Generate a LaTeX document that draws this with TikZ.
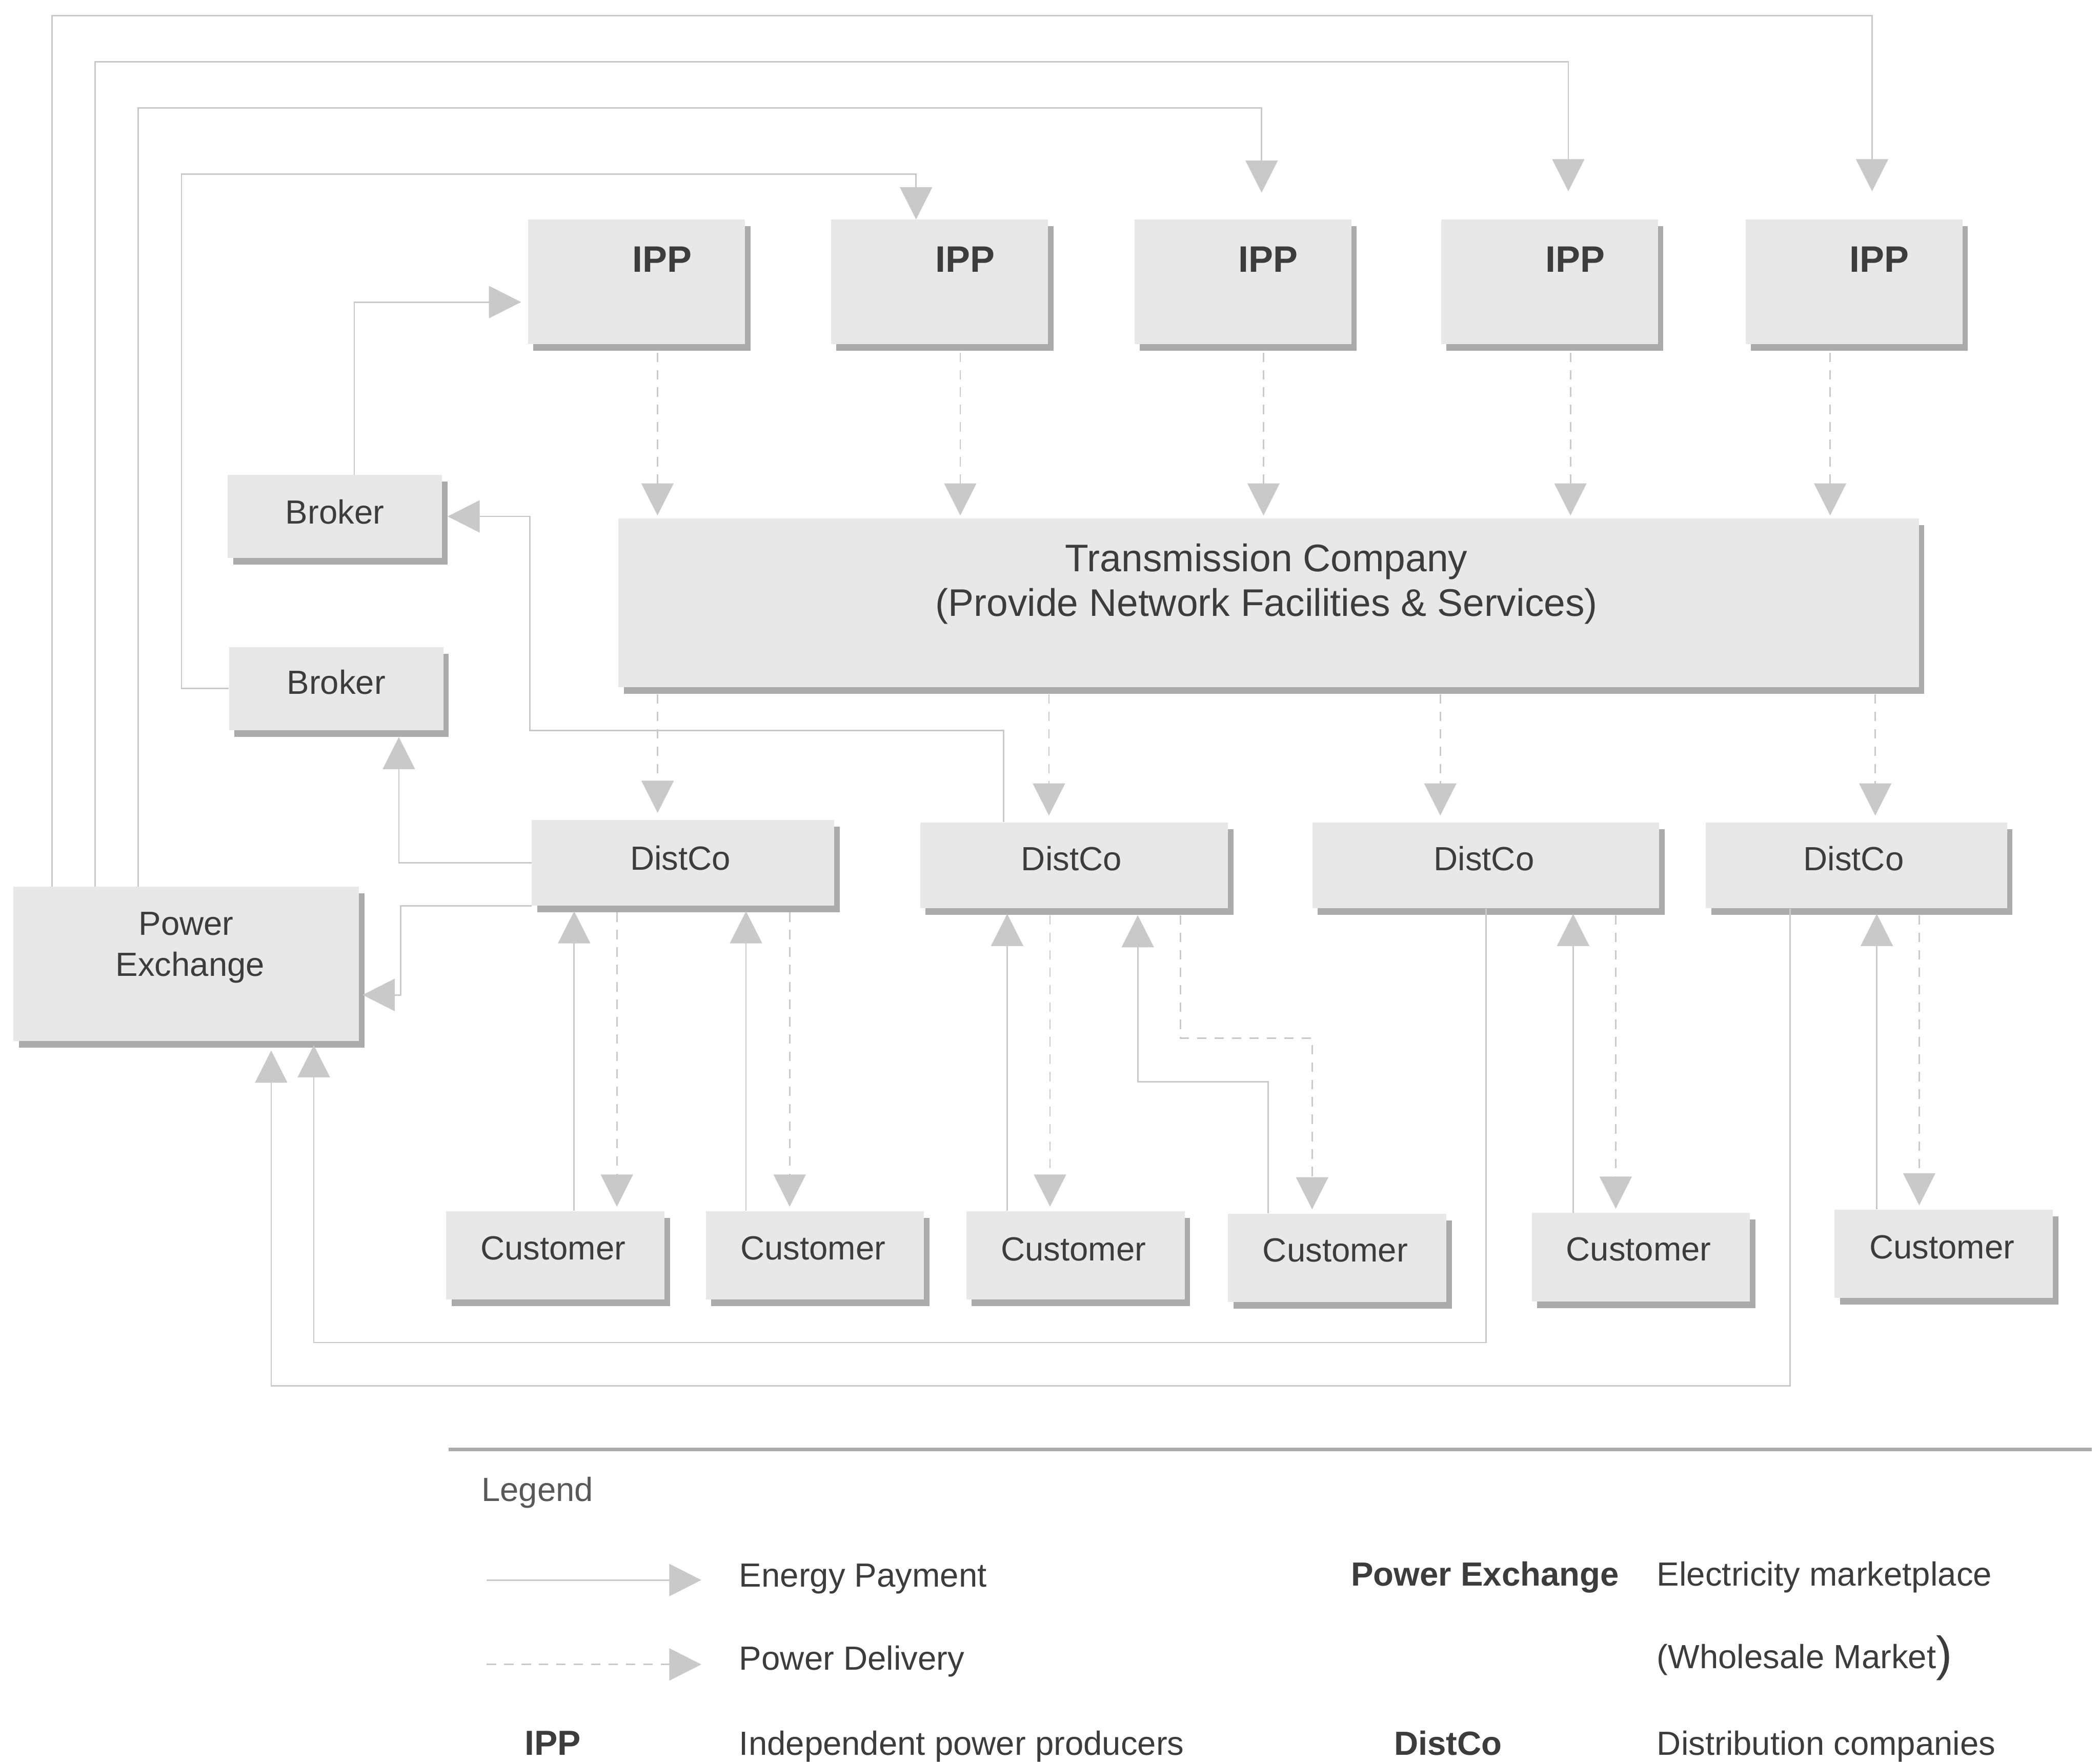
\documentclass[tikz,border=0pt]{standalone}
\usepackage{fontspec}
\setmainfont{Liberation Sans}
\usetikzlibrary{arrows.meta,shadows,calc}

\definecolor{boxfill}{HTML}{E8E8E8}
\definecolor{boxshade}{HTML}{ABABAB}
\definecolor{wire}{HTML}{C9C9C9}
\definecolor{ink}{HTML}{3C3C3C}

\tikzset{
  box/.style={fill=boxfill, draw=none, inner sep=0pt,
    drop shadow={shadow xshift=4pt, shadow yshift=-5pt, fill=boxshade, opacity=1}},
  ippbox/.style={box, minimum width=162pt, minimum height=93pt},
  distbox/.style={box, minimum height=64pt},
  custbox/.style={box, minimum width=163pt, minimum height=66pt},
  brokerbox/.style={box, minimum width=160pt, minimum height=62pt},
  pay/.style={draw=wire, line width=1.1pt, -{Triangle[length=24pt,width=24pt,fill=wire]}},
  del/.style={pay, dash pattern=on 7pt off 6pt},
  txt/.style={font=\fontsize{25}{30}\selectfont, text=ink, inner sep=0pt, anchor=base},
  bold/.style={txt, font=\fontsize{25}{30}\selectfont\bfseries},
  ipptxt/.style={txt, font=\fontsize{27.5}{32}\selectfont\bfseries},
  tctxt/.style={txt, font=\fontsize{28.7}{34}\selectfont},
}

\begin{document}
\begin{tikzpicture}[x=1pt, y=-1pt]
\useasboundingbox (0,0) rectangle (1568,1315);
\fill[white] (0,0) rectangle (1568,1315);

% ---------- producers ----------
\node[ippbox] (ipp1) at (475.3,210.5) {};
\node[ippbox] (ipp2) at (701.5,210.5) {};
\node[ippbox] (ipp3) at (928,210.5) {};
\node[ippbox] (ipp4) at (1157,210.5) {};
\node[ippbox] (ipp5) at (1384.3,210.5) {};
\node[ipptxt] (ipp1t) at (494.3,203) {IPP};
\node[ipptxt] (ipp2t) at (720.5,203) {IPP};
\node[ipptxt] (ipp3t) at (947,203) {IPP};
\node[ipptxt] (ipp4t) at (1176,203) {IPP};
\node[ipptxt] (ipp5t) at (1403.3,203) {IPP};

% ---------- brokers ----------
\node[brokerbox] (broker1) at (250,385.5) {};
\node[brokerbox] (broker2) at (251,514) {};
\node[txt] (broker1t) at (250,391) {Broker};
\node[txt] (broker2t) at (251,518) {Broker};

% ---------- transmission company ----------
\node[box, minimum width=971pt, minimum height=126pt] (tc) at (947.3,450) {};
\node[tctxt] (tct1) at (945.6,426.5) {Transmission Company};
\node[tctxt] (tct2) at (945.6,460) {(Provide Network Facilities \& Services)};

% ---------- distribution companies ----------
\node[distbox, minimum width=226pt] (distco1) at (510,644) {};
\node[distbox, minimum width=230pt] (distco2) at (802,646) {};
\node[distbox, minimum width=259pt] (distco3) at (1109.4,646) {};
\node[distbox, minimum width=225pt] (distco4) at (1386.2,646) {};
\node[txt] (distco1t) at (508,649.6) {DistCo};
\node[txt] (distco2t) at (800,650) {DistCo};
\node[txt] (distco3t) at (1108,650) {DistCo};
\node[txt] (distco4t) at (1384,650) {DistCo};

% ---------- power exchange ----------
\node[box, minimum width=258pt, minimum height=115pt] (pe) at (139,719.5) {};
\node[txt] (pet1) at (139,698) {Power};
\node[txt] (pet2) at (142,728.5) {Exchange};

% ---------- customers ----------
\node[custbox] (cust1) at (414.7,937) {};
\node[custbox] (cust2) at (608.5,937) {};
\node[custbox] (cust3) at (803,937) {};
\node[custbox] (cust4) at (998.5,939) {};
\node[custbox] (cust5) at (1225.2,938.5) {};
\node[custbox] (cust6) at (1451.3,936) {};
\node[txt] (cust1t) at (413,940.5) {Customer};
\node[txt] (cust2t) at (607,940.5) {Customer};
\node[txt] (cust3t) at (801.5,941) {Customer};
\node[txt] (cust4t) at (997,942) {Customer};
\node[txt] (cust5t) at (1223.5,941) {Customer};
\node[txt] (cust6t) at (1450,939.5) {Customer};

% ---------- payment rails ----------
\coordinate (rail1) at (38.7,11.7);
\coordinate (rail2) at (71,46);
\coordinate (rail3) at (103,80.6);
\coordinate (rail4) at (135.5,130);
\draw[pay, shorten >=21pt] (pe.north -| rail1) -- (rail1) -| ([xshift=13.5pt]ipp5.north);
\draw[pay, shorten >=21pt] (pe.north -| rail2) -- (rail2) -| ([xshift=14pt]ipp4.north);
\draw[pay, shorten >=20pt] (pe.north -| rail3) -- (rail3) -| ([xshift=14pt]ipp3.north);
\draw[pay] (broker2.west) -| (rail4) -| ([xshift=-17.5pt]ipp2.north);
\draw[pay, shorten >=5pt] ([xshift=14.5pt]broker1.north) |- ([yshift=-15pt]ipp1.west);

% payments towards brokers and the exchange
\coordinate (b1bend) at (395.5,545.4);
\draw[pay, shorten >=4pt] ([xshift=-52.6pt]distco2.north) |- (b1bend) |- (broker1.east);
\draw[pay, shorten >=5pt] (distco1.west) -| ([xshift=46.8pt]broker2.south);
\coordinate (pebend) at (299,742.7);
\draw[pay, shorten >=2.5pt] (distco1.south west) -| (pebend) -- (pe.east |- pebend);
\coordinate (low1) at (234.3,1002.2);
\coordinate (low2) at (202.5,1034.5);
\draw[pay, shorten >=3pt] (distco3.south) |- (low1) -- (pe.south -| low1);
\draw[pay, shorten >=7pt] ([xshift=-49.5pt]distco4.south) |- (low2) -- (pe.south -| low2);

% customer payments
\draw[pay, shorten >=4pt] ([xshift=14pt]cust1.north) -- ([xshift=14pt]cust1.north |- distco1.south);
\draw[pay, shorten >=4pt] ([xshift=-51.5pt]cust2.north) -- ([xshift=-51.5pt]cust2.north |- distco1.south);
\draw[pay, shorten >=4pt] ([xshift=-51pt]cust3.north) -- ([xshift=-51pt]cust3.north |- distco2.south);
\coordinate (c4bend) at (849.5,807.6);
\draw[pay, shorten >=5pt] ([xshift=-51.5pt]cust4.north) |- (c4bend) -- (c4bend |- distco2.south);
\draw[pay, shorten >=4pt] ([xshift=-50.6pt]cust5.north) -- ([xshift=-50.6pt]cust5.north |- distco3.south);
\draw[pay, shorten >=4pt] ([xshift=-50pt]cust6.north) -- ([xshift=-50pt]cust6.north |- distco4.south);

% ---------- power delivery ----------
\foreach \n/\dx in {1/15.6, 2/15.5, 3/15.4, 4/15.6, 5/-17.8}
  \draw[del, shorten <=6pt, shorten >=2pt] ([xshift=\dx pt]ipp\n.south) -- ([xshift=\dx pt]ipp\n.south |- tc.north);
\foreach \n/\dx in {1/-19, 2/-18.8, 3/-34, 4/14}
  \draw[del, shorten <=5pt, shorten >=5pt] ([xshift=\dx pt]distco\n.north |- tc.south) -- ([xshift=\dx pt]distco\n.north);
\draw[del, shorten <=5pt, shorten >=3pt] ([xshift=45.9pt]cust1.north |- distco1.south) -- ([xshift=45.9pt]cust1.north);
\draw[del, shorten <=5pt, shorten >=3pt] ([xshift=-18.9pt]cust2.north |- distco1.south) -- ([xshift=-18.9pt]cust2.north);
\draw[del, shorten <=5pt, shorten >=3pt] ([xshift=-19pt]cust3.north |- distco2.south) -- ([xshift=-19pt]cust3.north);
\coordinate (d4a) at (881.5,774.9);
\draw[del, shorten <=5pt, shorten >=3pt] (distco2.south -| d4a) -- (d4a) -| ([xshift=-18.8pt]cust4.north);
\draw[del, shorten <=5pt, shorten >=3pt] ([xshift=-18.8pt]cust5.north |- distco3.south) -- ([xshift=-18.8pt]cust5.north);
\draw[del, shorten <=5pt, shorten >=3pt] ([xshift=-18.3pt]cust6.north |- distco4.south) -- ([xshift=-18.3pt]cust6.north);

% ---------- legend ----------
\draw[boxshade, line width=3pt] (335,1082) -- (1562,1082);
\node[txt, anchor=base west, text=ink!85] (legtitle) at (359.4,1120.5) {Legend};
\coordinate (lgA0) at (363.4,1179.5);
\coordinate (lgA1) at (523.7,1179.5);
\coordinate (lgB0) at (363.4,1242.5);
\coordinate (lgB1) at (523.7,1242.5);
\draw[pay] (lgA0) -- (lgA1);
\draw[del] (lgB0) -- (lgB1);
\node[txt, anchor=base west] (legpay) at (551.8,1184.5) {Energy Payment};
\node[txt, anchor=base west] (legdel) at (551.8,1246.5) {Power Delivery};
\node[ipptxt, font=\fontsize{26}{30}\selectfont\bfseries, anchor=base west] (legipp) at (391.5,1310) {IPP};
\node[txt, anchor=base west] (legippd) at (551.8,1310) {Independent power producers};
\node[bold, anchor=base west] (legpe) at (1008.6,1184) {Power Exchange};
\node[txt, anchor=base west] (legped) at (1237,1184) {Electricity marketplace};
\node[txt, anchor=base west] (legped2) at (1237,1245.5) {(Wholesale Market\raisebox{-1.5pt}{\fontsize{36}{40}\selectfont)}};
\node[bold, anchor=base west] (legdc) at (1040.7,1310) {DistCo};
\node[txt, anchor=base west] (legdcd) at (1237,1310) {Distribution companies};
\end{tikzpicture}
\end{document}
